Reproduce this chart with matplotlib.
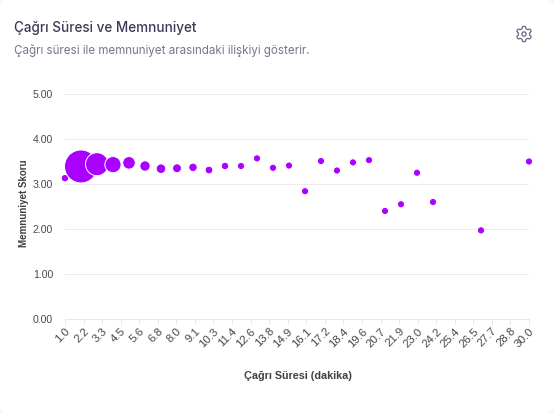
"""
Çağrı Süresi ve Memnuniyet - balon grafiği
"""

import numpy as np
import matplotlib
matplotlib.use("Agg")
import matplotlib.pyplot as plt
from matplotlib.patches import FancyBboxPatch, Polygon, Circle

W, H = 554, 413

# Veriler
sure = [1, 2, 3, 4, 5, 6, 7, 8, 9, 10, 11, 12, 13, 14, 15, 16, 17, 18, 19, 20,
        21, 22, 23, 24, 27, 30]
memnuniyet = [3.13, 3.39, 3.44, 3.43, 3.47, 3.40, 3.34, 3.35, 3.37, 3.31,
              3.40, 3.40, 3.57, 3.36, 3.41, 2.84, 3.51, 3.30, 3.48, 3.53,
              2.40, 2.55, 3.25, 2.60, 1.97, 3.50]
cagri_adedi = [14, 272, 132, 66, 40, 27, 23, 20, 18, 15, 14, 13, 13, 13, 13, 13,
               13, 13, 13, 13, 13, 13, 13, 13, 13, 13]
x_etiketleri = ["1.0", "2.2", "3.3", "4.5", "5.6", "6.8", "8.0", "9.1", "10.3",
                "11.4", "12.6", "13.8", "14.9", "16.1", "17.2", "18.4", "19.6",
                "20.7", "21.9", "23.0", "24.2", "25.4", "26.5", "27.7", "28.8",
                "30.0"]
y_degerleri = [0, 1, 2, 3, 4, 5]

px = 72 / 100  # 1 piksel, punto cinsinden (dpi=100)

fig = plt.figure(figsize=(W / 100, H / 100), dpi=100, facecolor="#f6f6f8")

# Kart ve başlıklar için piksel koordinatlı katman
bg = fig.add_axes([0, 0, 1, 1])
bg.set_xlim(0, W)
bg.set_ylim(H, 0)
bg.axis("off")
bg.add_patch(FancyBboxPatch((4, 4), W - 8, H - 8,
                            boxstyle="round,pad=4,rounding_size=8",
                            fc="white", ec="none"))
bg.text(14, 28, "Çağrı Süresi ve Memnuniyet", family="Inter", fontsize=13.5 * px,
        color="#3b3b58", weight="medium", va="center")
bg.text(14, 51, "Çağrı süresi ile memnuniyet arasındaki ilişkiyi gösterir.",
        family="Inter", fontsize=11.6 * px, color="#77768c", va="center")

# Ayar simgesi
gear = "#6c6c88"
aci = np.linspace(0, 2 * np.pi, 97)
yaricap = 6.6 + 1.0 * np.clip(2.2 * np.cos(6 * aci), -1, 1)
bg.add_patch(Polygon(np.column_stack([524 + yaricap * np.sin(aci),
                                      34 + yaricap * np.cos(aci)]),
                     closed=True, fc="none", ec=gear, lw=1.3 * px, joinstyle="round"))
bg.add_patch(Circle((524, 34), 2.1, fc="none", ec=gear, lw=1.3 * px))

ax = fig.add_axes([65 / W, 1 - 319 / H, (529 - 65) / W, (319 - 94) / H])
ax.patch.set_alpha(0)
ax.set_xlim(1, 30)
ax.set_ylim(0, 5)

ax.scatter(sure, memnuniyet, s=[c * px ** 2 * 4 for c in cagri_adedi],
           c="#aa00ff", edgecolors="white", linewidths=1.0 * px, zorder=3,
           clip_on=False)

ax.set_yticks(y_degerleri)
ax.set_yticklabels([f"{v:.2f}" for v in y_degerleri], family="Liberation Sans",
                   fontsize=10.5 * px, color="#48484e")
ax.set_xticks(np.linspace(1, 30, len(x_etiketleri)))
ax.set_xticklabels(x_etiketleri, family="Liberation Sans", fontsize=11.5 * px,
                   color="#48484e", rotation=45, ha="right", rotation_mode="anchor")
ax.tick_params(axis="y", length=0, pad=8.6)
ax.tick_params(axis="x", length=5 * px, width=1 * px, color="#e6e6e6", pad=1.5)
ax.grid(axis="y", color="#ebebeb", lw=1 * px, zorder=0)
ax.set_axisbelow(True)
for lado in ["top", "right", "left"]:
    ax.spines[lado].set_visible(False)
ax.spines["bottom"].set_color("#e6e6e6")
ax.spines["bottom"].set_linewidth(1 * px)

bg.text(297.5, 376, "Çağrı Süresi (dakika)", family="Liberation Sans", weight="bold",
        fontsize=10.8 * px, color="#3f3f46", ha="center", va="center")
bg.text(24, 203, "Memnuniyet Skoru", family="Liberation Sans", weight="bold",
        fontsize=9.8 * px, color="#3f3f46", ha="center", va="center", rotation=90)

plt.savefig("out.png", dpi=100, facecolor=fig.get_facecolor())
plt.close()
